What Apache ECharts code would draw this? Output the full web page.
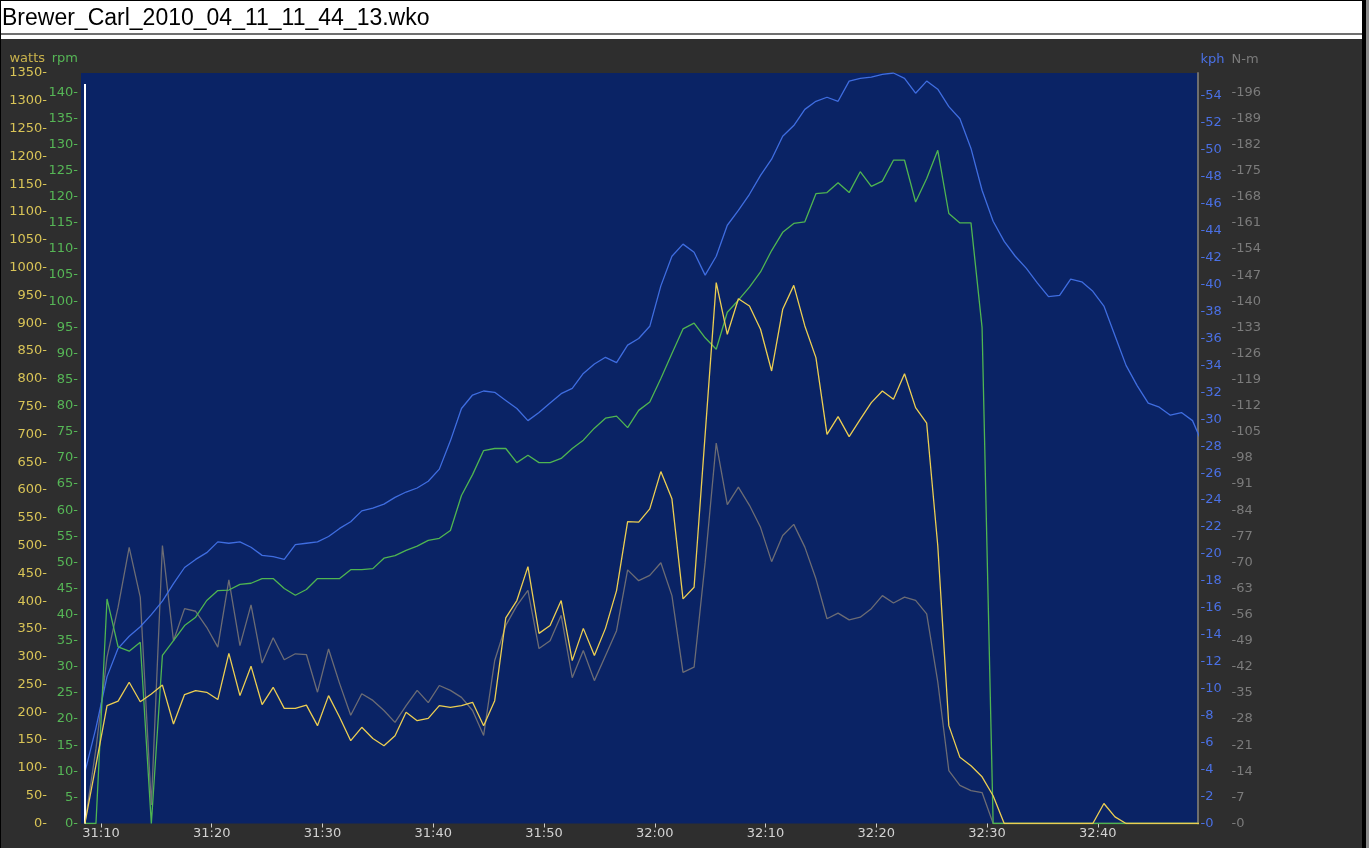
<!DOCTYPE html>
<html><head><meta charset="utf-8">
<script src="https://cdn.jsdelivr.net/npm/echarts@6/dist/echarts.min.js"></script>
<style>html,body{margin:0;padding:0;background:#2e2e2e;overflow:hidden}#c{width:1369px;height:848px}</style>
</head><body><div id="c"></div>
<script>
const chartTitle = 'Brewer_Carl_2010_04_11_11_44_13.wko';
// sample clock: first sample at 31:08.55 (seconds), one sample per second
const startSec = 1868.55;
const stepSec = 1;
const timeTicks = [1870, 1880, 1890, 1900, 1910, 1920, 1930, 1940, 1950, 1960];
const cursorWatts = [0, 1330];

const watts = [0,105,212,220,254,219,233,249,179,232,239,236,223,306,230,283,214,245,207,207,
  213,176,230,191,149,173,153,140,158,200,185,189,212,209,212,218,176,221,370,401,
  462,342,356,401,293,351,302,351,419,543,542,566,633,584,404,425,700,973,880,944,
  931,889,814,925,968,895,838,700,732,696,727,757,778,763,809,748,720,500,176,119,
  104,84,50,0,0,0,0,0,0,0,0,0,36,12,0,0,0,0,0,0,0,0];
const rpm = [0,0,43,33.8,33,34.7,0,32.2,35,37.9,39.5,42.7,44.6,44.7,45.8,46,46.9,46.9,45,43.7,
  44.8,46.9,46.9,46.9,48.6,48.6,48.8,50.8,51.3,52.3,53.1,54.2,54.6,56.1,62.8,66.8,71.4,71.8,71.8,69.1,
  70.5,69.1,69.1,69.9,71.8,73.4,75.7,77.6,78,75.8,79.1,80.7,85.2,90,94.7,95.8,93,90.8,97.9,100.2,
  102.7,105.6,109.7,113.2,114.9,115.2,120.6,120.8,122.7,120.8,124.8,122,123,127,127,119,123.5,128.9,116.8,115,
  115,95,0,0,0,0,0,0,0,0,0,0,0,0,0,0,0,0,0,0,0,0];
const kph = [3.8,7.1,10.9,13,13.9,14.6,15.5,16.5,17.8,19,19.6,20.1,20.9,20.8,20.9,20.5,19.9,19.8,19.6,20.7,
  20.8,20.9,21.3,21.9,22.4,23.2,23.4,23.7,24.2,24.6,24.9,25.4,26.3,28.4,30.8,31.8,32.1,32,31.4,30.8,
  29.9,30.5,31.2,31.9,32.3,33.4,34.1,34.6,34.2,35.5,36,36.9,39.9,42.1,43,42.4,40.7,42.1,44.4,45.5,
  46.7,48.1,49.3,51,51.8,53,53.6,53.9,53.6,55.1,55.3,55.4,55.6,55.7,55.3,54.2,55.1,54.5,53.2,52.3,
  50.1,47,44.7,43.2,42.1,41.2,40.1,39.1,39.2,40.4,40.2,39.5,38.4,36.2,34,32.5,31.2,30.9,30.3,30.5,
  29.9,28];
const torque = [0,20,44.6,58,74,60.7,5,74.5,49,57.6,56.9,52.6,47.3,65.3,47.7,58.6,43,49.8,43.9,45.5,
  45.3,35.2,46.8,37.5,29,34.8,33,30.3,27.1,31.6,35.7,32.4,37,35.7,33.8,30.3,23.6,43.7,53.1,58.4,
  62.5,46.9,49,55.8,39.1,46.4,38.3,45,51.7,68,65.1,66.5,69.9,61.1,40.5,41.9,70,102,85.5,90.2,
  85.3,79.4,70.2,77.2,80.2,74.1,65.6,54.9,56.4,54.6,55.3,57.6,61.1,59.1,60.7,59.8,56.2,38,14.2,10.2,
  8.8,8.3,0,0,0,0,0,0,0,0,0,0,0,0,0,0,0,0,0,0,0,0];

const C = {
  bg: '#2e2e2e', plot: '#0a2365',
  yellow: '#ecce52', green: '#4fb551', blue: '#3f6de0', gray: '#6c6c74',
  yLab: '#d9c457', gLab: '#56b656', bLab: '#4a70e4', nLab: '#7b7b7b'
};
const FONT = 'DejaVu Sans';

function pairs(arr) { return arr.map((v, i) => [startSec + i * stepSec, v]); }
function mmss(v) { const m = Math.floor(v / 60), s = Math.round(v - m * 60); return m + ':' + (s < 10 ? '0' : '') + s; }

const chart = echarts.init(document.getElementById('c'), null, {renderer: 'canvas'});
const lab = (color) => ({color, fontFamily: FONT, fontSize: 13});
chart.setOption({
  animation: false,
  backgroundColor: C.bg,
  title: {text: chartTitle, left: 2, top: 7, padding: 0,
    textStyle: {color: '#000', fontFamily: 'Liberation Sans', fontSize: 23, fontWeight: 'normal'}},
  graphic: [
    {type: 'rect', shape: {x: 0, y: 0, width: 1362, height: 33}, style: {fill: '#fff'}, z: -10},
    {type: 'rect', shape: {x: 0, y: 0, width: 1362, height: 1}, style: {fill: '#000'}, z: -9},
    {type: 'rect', shape: {x: 0, y: 33, width: 1362, height: 2}, style: {fill: '#707070'}, z: -9},
    {type: 'rect', shape: {x: 0, y: 35, width: 1362, height: 4}, style: {fill: '#fff'}, z: -9},
    {type: 'rect', shape: {x: 0, y: 0, width: 1, height: 848}, style: {fill: '#000'}, z: -9},
    {type: 'rect', shape: {x: 1362, y: 0, width: 4, height: 848}, style: {fill: '#000'}, z: -9},
    {type: 'rect', shape: {x: 1366, y: 0, width: 3, height: 848}, style: {fill: '#8c8c8c'}, z: -9}
  ],
  grid: {left: 81, right: 171.5, top: 73, bottom: 24.5, show: true, backgroundColor: C.plot, borderWidth: 0},
  xAxis: {
    type: 'value', min: 1868.2, max: 1969,
    axisLine: {show: false}, splitLine: {show: false},
    axisTick: {show: true, customValues: timeTicks, length: 4, lineStyle: {color: '#cfcfcf'}},
    axisLabel: {customValues: timeTicks, formatter: mmss, margin: 4, ...lab('#d2d2d2')}
  },
  yAxis: [
    {type: 'value', position: 'left', offset: 31, min: 0, max: 1350, interval: 50,
      name: 'watts', nameLocation: 'end', nameGap: 8,
      nameTextStyle: {...lab('#c9b24c'), align: 'right', verticalAlign: 'bottom', padding: [0, 5, 0, 0]},
      axisLine: {show: false}, axisTick: {show: false}, splitLine: {show: false},
      axisLabel: {margin: 3, formatter: v => v + '-', ...lab(C.yLab)}},
    {type: 'value', position: 'left', offset: 0, min: 0, max: 143.7, interval: 5,
      name: 'rpm', nameLocation: 'end', nameGap: 8,
      nameTextStyle: {...lab(C.gLab), align: 'right', verticalAlign: 'bottom', padding: [0, 3, 0, 0]},
      axisLine: {show: false}, axisTick: {show: false}, splitLine: {show: false},
      axisLabel: {margin: 3, formatter: v => (Math.abs(v % 5) < 1e-6 ? v + '-' : ''), ...lab(C.gLab)}},
    {type: 'value', position: 'right', offset: 0, min: 0, max: 55.7, interval: 2,
      name: 'kph', nameLocation: 'end', nameGap: 7,
      nameTextStyle: {...lab(C.bLab), align: 'left', verticalAlign: 'bottom', padding: [0, 0, 0, 3]},
      axisLine: {show: true, lineStyle: {color: '#6e6e6e', width: 2}}, axisTick: {show: false}, splitLine: {show: false},
      axisLabel: {margin: 3, formatter: v => (Math.abs(v % 2) < 1e-6 ? '-' + v : ''), ...lab(C.bLab)}},
    {type: 'value', position: 'right', offset: 31, min: 0, max: 201.2, interval: 7,
      name: 'N-m', nameLocation: 'end', nameGap: 7,
      nameTextStyle: {...lab(C.nLab), align: 'left', verticalAlign: 'bottom', padding: [0, 0, 0, 3]},
      axisLine: {show: false}, axisTick: {show: false}, splitLine: {show: false},
      axisLabel: {margin: 3, formatter: v => (Math.abs(v % 7) < 1e-6 ? '-' + v : ''), ...lab(C.nLab)}}
  ],
  series: [
    {name: 'N-m', type: 'line', yAxisIndex: 3, data: pairs(torque), showSymbol: false, symbol: 'none',
      lineStyle: {color: C.gray, width: 1.3}, z: 2},
    {name: 'kph', type: 'line', yAxisIndex: 2, data: pairs(kph), showSymbol: false, symbol: 'none',
      lineStyle: {color: C.blue, width: 1.3}, z: 3},
    {name: 'rpm', type: 'line', yAxisIndex: 1, data: pairs(rpm), showSymbol: false, symbol: 'none',
      lineStyle: {color: C.green, width: 1.3}, z: 4},
    {name: 'watts', type: 'line', yAxisIndex: 0, data: pairs(watts), showSymbol: false, symbol: 'none',
      lineStyle: {color: C.yellow, width: 1.3}, z: 5,
      markLine: {silent: true, symbol: 'none', label: {show: false},
        lineStyle: {color: '#ffffff', width: 2, type: 'solid'},
        data: [[{coord: [startSec, cursorWatts[0]]}, {coord: [startSec, cursorWatts[1]]}]]}}
  ]
});
</script></body></html>
